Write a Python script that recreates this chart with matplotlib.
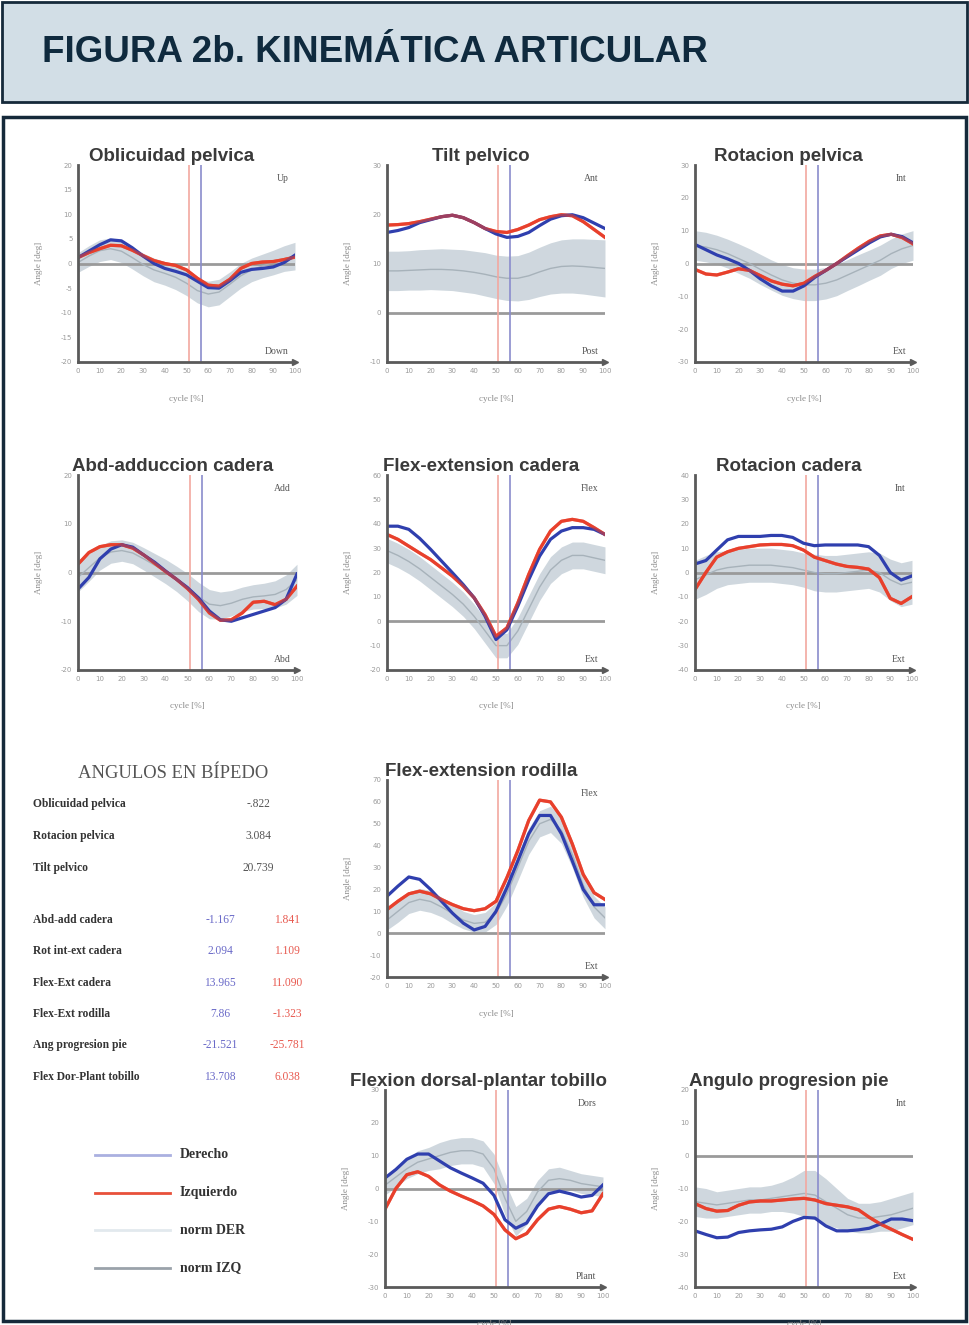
import numpy as np
import matplotlib.pyplot as plt
from matplotlib.patches import Rectangle

plt.rcParams["axes.unicode_minus"] = False

W, H = 969, 1325
cycle = np.arange(0, 101, 5)
toe_off_izq = 51
toe_off_der = 56.5

# Oblicuidad pelvica
obl_der = [1.2, 2.5, 3.8, 4.8, 4.6, 3.2, 1.5, 0.0, -1.0, -1.6, -2.3, -3.6, -4.9, -5.0, -3.5, -1.8, -1.2, -1.0, -0.7, 0.2, 1.7]
obl_izq = [1.2, 2.2, 3.0, 3.7, 3.6, 2.7, 1.6, 0.6, 0.0, -0.4, -1.3, -3.0, -4.4, -4.6, -3.2, -1.0, 0.0, 0.3, 0.4, 0.8, 1.3]
obl_norm = [0.2, 1.5, 2.6, 3.0, 2.5, 1.2, -0.2, -1.3, -2.0, -2.8, -4.0, -5.5, -6.2, -5.8, -4.2, -2.5, -1.3, -0.5, 0.2, 1.0, 1.5]
obl_sd = [2.0, 2.1, 2.2, 2.2, 2.3, 2.3, 2.3, 2.4, 2.4, 2.5, 2.5, 2.5, 2.6, 2.6, 2.5, 2.5, 2.4, 2.4, 2.5, 2.6, 2.8]

# Tilt pelvico
tilt_der = [16.3, 16.7, 17.3, 18.3, 18.9, 19.5, 19.8, 19.3, 18.3, 17.1, 16.0, 15.3, 15.5, 16.3, 17.7, 19.0, 19.7, 19.9, 19.3, 18.2, 17.1]
tilt_izq = [17.8, 17.9, 18.1, 18.5, 19.0, 19.5, 19.8, 19.3, 18.3, 17.1, 16.5, 16.3, 16.9, 17.8, 18.9, 19.5, 19.9, 19.7, 18.5, 16.9, 15.3]
tilt_norm = [8.5, 8.5, 8.6, 8.7, 8.8, 8.8, 8.7, 8.5, 8.2, 7.8, 7.3, 7.0, 7.0, 7.5, 8.3, 9.0, 9.4, 9.5, 9.4, 9.2, 9.0]
tilt_sd = [4.0, 4.0, 4.0, 4.1, 4.1, 4.2, 4.2, 4.3, 4.3, 4.4, 4.4, 4.5, 4.6, 4.8, 5.0, 5.2, 5.4, 5.5, 5.6, 5.7, 5.8]

# Rotacion pelvica
rpel_der = [5.8, 4.2, 2.6, 1.4, 0.0, -2.1, -4.7, -6.8, -8.4, -8.4, -6.8, -4.2, -2.1, 0.0, 2.1, 4.2, 6.3, 8.1, 8.9, 8.2, 6.3]
rpel_izq = [-1.8, -3.2, -3.5, -2.6, -1.6, -2.1, -3.7, -5.3, -6.3, -6.8, -6.0, -3.9, -2.1, 0.0, 2.4, 4.7, 6.8, 8.4, 8.9, 7.9, 6.0]
rpel_norm = [5.5, 5.0, 4.2, 3.0, 1.5, 0.0, -1.8, -3.5, -5.0, -6.0, -6.5, -6.5, -6.0, -5.0, -3.5, -2.0, -0.5, 1.0, 3.0, 4.5, 5.5]
rpel_sd = [4.5, 4.5, 4.4, 4.4, 4.5, 4.5, 4.6, 4.6, 4.7, 4.7, 4.8, 4.8, 4.8, 4.8, 4.7, 4.7, 4.6, 4.6, 4.5, 4.5, 4.5]

# Abd-adduccion cadera
abd_der = [-3.4, -1.0, 2.8, 4.8, 5.7, 5.2, 3.6, 2.1, 0.3, -1.4, -3.1, -5.2, -7.9, -9.7, -10.0, -9.3, -8.6, -7.9, -7.2, -5.5, -0.3]
abd_izq = [1.7, 4.1, 5.3, 5.7, 5.7, 5.0, 3.6, 1.9, 0.2, -1.4, -3.3, -5.5, -8.3, -9.8, -9.7, -8.3, -6.1, -5.9, -6.6, -5.5, -2.8]
abd_norm = [-1.0, 1.0, 3.0, 4.2, 4.5, 4.0, 2.8, 1.5, 0.2, -1.3, -3.0, -5.0, -6.5, -6.8, -6.3, -5.5, -5.0, -4.8, -4.5, -3.5, -1.5]
abd_sd = [3.0, 2.8, 2.5, 2.3, 2.2, 2.2, 2.3, 2.4, 2.5, 2.6, 2.8, 3.0, 3.0, 2.8, 2.6, 2.5, 2.5, 2.6, 2.8, 3.0, 3.2]

# Flex-extension cadera
fcad_der = [39.0, 39.0, 37.7, 34.0, 29.5, 24.7, 19.9, 15.0, 9.6, 2.0, -7.5, -3.5, 6.2, 17.0, 26.7, 33.6, 37.0, 38.4, 38.4, 37.7, 35.6]
fcad_izq = [35.6, 33.6, 30.8, 28.0, 25.3, 21.9, 18.5, 14.4, 9.6, 2.7, -6.2, -2.7, 7.5, 19.2, 29.5, 37.0, 41.0, 41.8, 41.0, 38.4, 35.6]
fcad_norm = [29.0, 27.0, 24.5, 21.5, 18.0, 14.5, 11.0, 7.0, 2.0, -4.0, -10.0, -10.0, -4.0, 5.0, 14.0, 21.0, 25.0, 27.0, 27.0, 26.0, 25.0]
fcad_sd = [5.0, 5.0, 5.0, 5.0, 5.0, 5.0, 5.0, 5.0, 5.0, 5.0, 5.0, 5.0, 5.5, 5.5, 5.5, 5.5, 5.5, 5.5, 5.5, 5.5, 5.5]

# Rotacion cadera
rcad_der = [3.5, 4.9, 9.2, 13.4, 14.8, 14.8, 14.8, 15.2, 15.2, 14.4, 12.0, 11.0, 11.3, 11.3, 11.3, 11.3, 10.6, 7.0, 0.0, -3.1, -1.4]
rcad_izq = [-7.0, 0.0, 6.3, 8.5, 9.9, 10.6, 11.3, 11.5, 11.5, 11.0, 9.2, 6.3, 4.9, 3.5, 2.5, 2.1, 1.4, -2.1, -10.6, -12.7, -9.9]
rcad_norm = [-3.0, -1.0, 1.0, 2.0, 2.5, 3.0, 3.0, 3.0, 2.5, 2.0, 1.0, 0.0, -0.5, -0.5, 0.0, 0.5, 1.0, 0.0, -3.0, -5.0, -4.0]
rcad_sd = [8.0, 8.0, 7.5, 7.0, 7.0, 7.0, 7.0, 7.0, 7.0, 7.0, 7.0, 7.5, 7.5, 7.5, 7.5, 7.5, 7.5, 8.0, 8.5, 9.0, 9.0]

# Flex-extension rodilla
rod_der = [16.9, 21.5, 25.7, 24.6, 20.0, 14.6, 9.2, 4.6, 1.5, 3.1, 10.0, 20.8, 33.0, 45.4, 53.8, 53.8, 45.4, 33.0, 20.0, 13.0, 13.0]
rod_izq = [10.8, 14.6, 18.0, 19.2, 18.0, 15.4, 13.1, 11.2, 10.3, 11.2, 14.6, 25.4, 37.7, 51.5, 60.8, 60.0, 53.0, 40.8, 26.9, 18.5, 15.4]
rod_norm = [6.0, 10.0, 14.0, 15.5, 14.5, 12.0, 9.0, 6.0, 4.5, 5.0, 9.0, 18.0, 30.0, 42.0, 50.0, 52.0, 47.0, 36.0, 22.0, 12.0, 7.0]
rod_sd = [4.5, 5.0, 5.0, 5.0, 5.0, 4.5, 4.5, 4.0, 4.0, 4.5, 5.0, 5.5, 6.0, 6.0, 6.0, 6.0, 6.0, 6.0, 5.5, 5.0, 5.0]

# Flexion dorsal-plantar tobillo
tob_der = [3.2, 5.8, 8.9, 10.5, 10.5, 8.4, 6.3, 4.7, 3.2, 1.6, -2.1, -9.5, -12.1, -10.5, -5.3, -1.6, -0.8, -1.6, -2.6, -2.1, 1.1]
tob_izq = [-6.3, 0.0, 4.2, 5.1, 3.7, 1.1, -0.8, -2.3, -3.7, -5.3, -7.9, -12.6, -15.3, -13.7, -9.5, -6.3, -5.5, -6.3, -7.4, -6.8, -1.6]
tob_norm = [1.0, 3.5, 6.0, 8.0, 9.0, 10.0, 11.0, 11.5, 11.5, 10.5, 6.0, -3.0, -10.0, -7.0, -1.0, 2.5, 3.0, 2.5, 1.5, 1.0, 0.5]
tob_sd = [3.0, 3.0, 3.0, 3.5, 3.5, 4.0, 4.0, 4.0, 4.0, 4.0, 4.5, 5.0, 4.5, 4.0, 3.5, 3.5, 3.5, 3.0, 3.0, 3.0, 3.0]

# Angulo progresion pie
pie_der = [-22.9, -24.0, -25.0, -24.8, -23.4, -22.9, -22.6, -22.4, -21.7, -20.0, -18.8, -19.0, -21.4, -22.9, -22.9, -22.6, -22.1, -20.8, -19.3, -19.3, -19.8]
pie_izq = [-14.6, -16.1, -16.9, -16.7, -15.1, -14.1, -13.8, -13.8, -13.5, -13.2, -13.0, -13.5, -14.6, -15.1, -15.6, -16.5, -18.8, -20.8, -22.4, -24.0, -25.5]
pie_norm = [-14.0, -14.5, -15.0, -14.5, -14.0, -13.5, -13.5, -13.0, -12.5, -12.0, -11.5, -12.0, -14.0, -16.0, -18.0, -19.0, -19.0, -18.5, -18.0, -17.0, -16.0]
pie_sd = [4.5, 4.5, 4.0, 4.0, 4.0, 4.0, 4.0, 4.0, 4.5, 5.5, 7.0, 7.5, 7.0, 6.0, 5.0, 4.5, 4.5, 4.5, 5.0, 5.0, 5.0]

# Tabla de angulos en bipedo
pelvis_labels = ["Oblicuidad pelvica", "Rotacion pelvica", "Tilt pelvico"]
pelvis_values = ["-.822", "3.084", "20.739"]
joint_labels = ["Abd-add cadera", "Rot int-ext cadera", "Flex-Ext cadera",
                "Flex-Ext rodilla", "Ang progresion pie", "Flex Dor-Plant tobillo"]
joint_der = ["-1.167", "2.094", "13.965", "7.86", "-21.521", "13.708"]
joint_izq = ["1.841", "1.109", "11.090", "-1.323", "-25.781", "6.038"]

legend_labels = ["Derecho", "Izquierdo", "norm DER", "norm IZQ"]

BLUE = "#2f3fae"
RED = "#e8402c"
BAND = "#c3ced6"
NAVY = "#15293a"

panels = [
    # title, (left, top, right, bottom) px, yticks, top tag, bottom tag, data
    ("Oblicuidad pelvica", (78, 165, 295, 362), np.arange(-20, 21, 5), "Up", "Down",
     obl_der, obl_izq, obl_norm, obl_sd),
    ("Tilt pelvico", (387, 165, 605, 362), np.arange(-10, 31, 10), "Ant", "Post",
     tilt_der, tilt_izq, tilt_norm, tilt_sd),
    ("Rotacion pelvica", (695, 165, 913, 362), np.arange(-30, 31, 10), "Int", "Ext",
     rpel_der, rpel_izq, rpel_norm, rpel_sd),
    ("Abd-adduccion cadera", (78, 475, 297, 670), np.arange(-20, 21, 10), "Add", "Abd",
     abd_der, abd_izq, abd_norm, abd_sd),
    ("Flex-extension cadera", (387, 475, 605, 670), np.arange(-20, 61, 10), "Flex", "Ext",
     fcad_der, fcad_izq, fcad_norm, fcad_sd),
    ("Rotacion cadera", (695, 475, 912, 670), np.arange(-40, 41, 10), "Int", "Ext",
     rcad_der, rcad_izq, rcad_norm, rcad_sd),
    ("Flex-extension rodilla", (387, 780, 605, 977), np.arange(-20, 71, 10), "Flex", "Ext",
     rod_der, rod_izq, rod_norm, rod_sd),
    ("Flexion dorsal-plantar tobillo", (385, 1090, 603, 1287), np.arange(-30, 31, 10), "Dors", "Plant",
     tob_der, tob_izq, tob_norm, tob_sd),
    ("Angulo progresion pie", (695, 1090, 913, 1287), np.arange(-40, 21, 10), "Int", "Ext",
     pie_der, pie_izq, pie_norm, pie_sd),
]

fig = plt.figure(figsize=(W / 100, H / 100), dpi=100)
fig.patch.set_facecolor("white")


def fx(px):
    return px / W


def fy(py):
    return 1 - py / H


# header box and main frame (behind the axes)
fig.patches.append(Rectangle((fx(2), fy(102)), fx(965), 100 / H, transform=fig.transFigure,
                             facecolor="#d2dee6", edgecolor=NAVY, linewidth=2, zorder=-10))
fig.patches.append(Rectangle((fx(3), fy(1321)), fx(963), 1204 / H, transform=fig.transFigure,
                             facecolor="white", edgecolor=NAVY, linewidth=2.5, zorder=-10))
fig.text(fx(42), fy(52), "FIGURA 2b. KINEMÁTICA ARTICULAR", ha="left", va="center",
         fontsize=26.5, fontweight="bold", color="#0f2a3e", family="Liberation Sans")

for title, (l, t, r, b), yt, tag_top, tag_bot, der, izq, nm, sd in panels:
    ax = fig.add_axes([fx(l), fy(b), fx(r - l), (b - t) / H])
    ax.patch.set_alpha(0)
    nm = np.array(nm)
    sd = np.array(sd)
    ax.fill_between(cycle, nm - sd, nm + sd, color=BAND, alpha=0.8, linewidth=0)
    ax.plot(cycle, nm, color="#a7b2ba", lw=1)
    ax.axhline(0, color="#9a9a9a", lw=2, zorder=1)
    ax.axvline(toe_off_izq, color="#f2a8a0", lw=1.2)
    ax.axvline(toe_off_der, color="#8a8ccc", lw=1.2)
    ax.plot(cycle, izq, color=RED, lw=2.3)
    ax.plot(cycle, der, color=BLUE, lw=2.3)
    ax.plot(cycle, izq, color=RED, lw=2.3, alpha=0.6)

    ax.set_xlim(0, 100)
    ax.set_ylim(yt[0], yt[-1])
    ax.set_xticks(np.arange(0, 101, 10))
    ax.set_yticks(yt)
    ax.tick_params(length=0, labelsize=5, labelcolor="#9a9a9a", pad=4)
    for s in ("top", "right"):
        ax.spines[s].set_visible(False)
    for s in ("left", "bottom"):
        ax.spines[s].set_color("#5a5a5a")
        ax.spines[s].set_linewidth(2)
    ax.plot(1, 0, ">", color="#5a5a5a", ms=4, transform=ax.transAxes, clip_on=False)

    ax.set_title(title, x=0.43, fontsize=13.5, fontweight="bold", color="#3a3a3a",
                 family="Liberation Sans", pad=3)
    ax.set_xlabel("cycle [%]", fontsize=6.5, color="#8a8a8a", family="Liberation Serif")
    ax.set_ylabel("Angle [deg]", fontsize=6.5, color="#8a8a8a", family="Liberation Serif")
    ax.xaxis.set_label_coords(0.5, -0.165)
    ax.yaxis.set_label_coords(-0.16, 0.5)
    ax.text(0.97, 0.93, tag_top, transform=ax.transAxes, ha="right", va="center",
            fontsize=7, color="#555555", family="Liberation Serif")
    ax.text(0.97, 0.055, tag_bot, transform=ax.transAxes, ha="right", va="center",
            fontsize=7, color="#555555", family="Liberation Serif")

# tabla de angulos en bipedo
fig.text(fx(173), fy(773), "ANGULOS EN BÍPEDO", ha="center", va="center",
         fontsize=13.4, color="#555555", family="Liberation Serif")
for i, (lab, val) in enumerate(zip(pelvis_labels, pelvis_values)):
    y = fy(804 + i * 32)
    fig.text(fx(33), y, lab, ha="left", va="center", fontsize=8.3, fontweight="bold",
             color="#333333", family="Liberation Serif")
    fig.text(fx(258), y, val, ha="center", va="center", fontsize=8.3,
             color="#555555", family="Liberation Serif")
for i, (lab, vd, vi) in enumerate(zip(joint_labels, joint_der, joint_izq)):
    y = fy(920 + i * 31.3)
    fig.text(fx(33), y, lab, ha="left", va="center", fontsize=8.3, fontweight="bold",
             color="#333333", family="Liberation Serif")
    fig.text(fx(220), y, vd, ha="center", va="center", fontsize=8.3,
             color="#6a6ac8", family="Liberation Serif")
    fig.text(fx(287), y, vi, ha="center", va="center", fontsize=8.3,
             color="#e85a50", family="Liberation Serif")

# leyenda
leg_colors = ["#aab0e0", "#e8503a", "#e2e9ee", "#9aa2aa"]
lax = fig.add_axes([0, 0, 1, 1], facecolor="none")
lax.set_xlim(0, W)
lax.set_ylim(H, 0)
lax.axis("off")
for i, (lab, c) in enumerate(zip(legend_labels, leg_colors)):
    y = 1155 + i * 37.5
    lax.plot([95, 170], [y, y], color=c, lw=2)
    lax.text(180, y, lab, ha="left", va="center", fontsize=10, fontweight="bold",
             color="#333333", family="Liberation Serif")

fig.savefig("out.png", dpi=100, facecolor="white")
